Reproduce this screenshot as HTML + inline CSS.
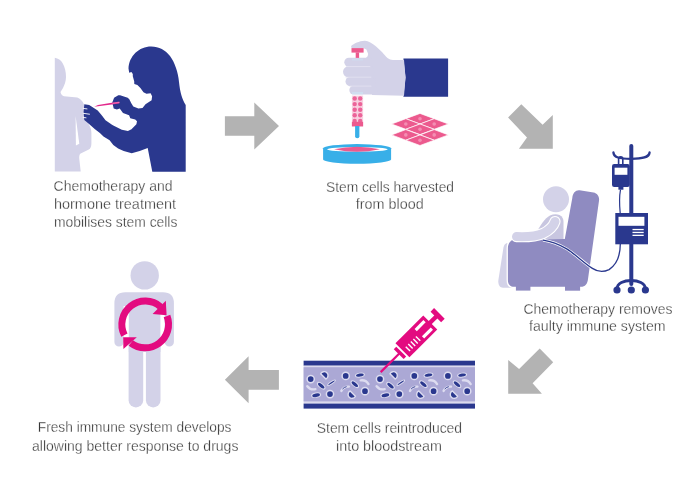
<!DOCTYPE html>
<html><head><meta charset="utf-8"><title>Stem cell transplant</title>
<style>
html,body{margin:0;padding:0;background:#fff;}
body{width:700px;height:493px;overflow:hidden;position:relative;}
svg{position:absolute;left:0;top:0;display:block;will-change:transform;}
text{font-family:"Liberation Sans",sans-serif;}
</style></head><body>
<svg width="700" height="493" viewBox="0 0 700 493">
<rect width="700" height="493" fill="#fff"/>
<g fill="#b3b3b3">
<polygon points="224.9,116.3 254.3,116.3 254.3,102.5 279,126 254.3,149.4 254.3,135.7 224.9,135.7"/>
<polygon points="521.3,104.2 542.6,124.8 552.8,114.9 552.8,148.7 518.9,148.7 527,137.6 508.1,117.4"/>
<polygon points="539.7,348.5 553.2,362.3 532.6,383.3 541.9,393.7 508.2,393.7 508.2,359.9 519.1,369.1"/>
<polygon points="224.9,379.8 248.6,356.3 248.6,370.1 278.9,370.1 278.9,389.7 248.6,389.7 248.6,403.2"/>
</g>
<path fill="#d3d2e8" d="M54.8,57.8 C58,58.5 61,60 62.5,63 C65,67 66,72 66,77 C66,81 64.5,85 63,88 L60.5,92 C61,94.5 62.5,96 64,96.2 L77.3,97.6 C80,98.5 82.5,101 83.8,104 L88.8,124.5 C90.5,127 91.4,130 91.4,133 L91.4,143.4 C91.4,146.5 90.5,148.5 88.8,149.5 L80.2,153.8 C79.3,155 79.1,157 79.3,159 L80.7,171.5 L54.8,171.5 Z"/>
<path fill="#fff" d="M75.6,116 L75.9,145.5 L79.3,143.8 Z"/>
<path fill="#2a388e" d="M151.2,46.4 C159,46.4 165.5,50 170,56 C175,63 178,72 179,82 C180,92 182,99 185.7,105 L185.7,171.8 L152.3,171.8 L147.7,148.1 L139.7,151 L131.7,153.3 L123.7,151 L118.1,148.4 L113.3,145 L109.6,140.2 L103.5,136.5 L99.9,132.9 L95,129.2 L88.5,123.4 L84.3,120 L83.6,112 L84.3,104.2 L89.2,105.1 L97.7,110.5 L101.3,114.7 L105.5,120.2 L112,124.8 L113.3,125.6 L121.8,129.8 L127.9,131 L131.5,129.2 L136.4,124.3 L137,121.3 L135.2,119.5 L130.3,118.3 L129.1,115.2 L123,113.1 L119.7,108.6 L116.9,109.6 L113.7,108.4 L112.3,102.6 L114.1,97.7 L118.3,95.2 L120.1,95.2 L127.7,97.7 L129.3,99.3 L131.3,103.3 L133.3,106.4 L138.4,108.4 L142.5,107.9 L145.5,104.3 L151.6,100.3 L152.1,96.2 L150.6,93.2 L146.5,93.7 L143.5,92.2 L140.4,88.1 L137.4,85.1 L134.3,84.1 L134.2,81.2 L132.8,76.2 L132.8,74 L131.4,72 L129.2,72.7 L128.5,68.4 C129,56 139,46.4 151.2,46.4 Z"/>
<path stroke="#fff" stroke-width="0.9" fill="none" stroke-linecap="round" d="M83.2,108.4 L87,108.9 M83.2,113.3 L89.5,114.2 M83.2,117.4 L86,117.8"/>
<path d="M94.2,106.7 L98,106.2 L119.4,103.6 L119.4,101.6 L98,104.9 Z" fill="#e2288b"/>
<line x1="112.5" y1="103.3" x2="119.4" y2="102.5" stroke="#f286bd" stroke-width="0.9"/>
<g fill="#363636" stroke="#fff" stroke-width="0.3" font-family="Liberation Sans, sans-serif">
<text x="53.6" y="191" text-anchor="start" font-size="15.3" textLength="119" lengthAdjust="spacingAndGlyphs">Chemotherapy and</text>
<text x="54" y="209" text-anchor="start" font-size="15.3" textLength="122" lengthAdjust="spacingAndGlyphs">hormone treatment</text>
<text x="54" y="227.2" text-anchor="start" font-size="15.3" textLength="123.4" lengthAdjust="spacingAndGlyphs">mobilises stem cells</text>
<text x="390" y="191.6" text-anchor="middle" font-size="15.3" textLength="128" lengthAdjust="spacingAndGlyphs">Stem cells harvested</text>
<text x="389.7" y="209" text-anchor="middle" font-size="15.3" textLength="67.9" lengthAdjust="spacingAndGlyphs">from blood</text>
<text x="598" y="313.7" text-anchor="middle" font-size="15.3" textLength="149" lengthAdjust="spacingAndGlyphs">Chemotherapy removes</text>
<text x="597.3" y="331" text-anchor="middle" font-size="15.3" textLength="136.6" lengthAdjust="spacingAndGlyphs">faulty immune system</text>
<text x="389.4" y="432.6" text-anchor="middle" font-size="15.3" textLength="145.3" lengthAdjust="spacingAndGlyphs">Stem cells reintroduced</text>
<text x="389" y="450.6" text-anchor="middle" font-size="15.3" textLength="106" lengthAdjust="spacingAndGlyphs">into bloodstream</text>
<text x="134.6" y="432.3" text-anchor="middle" font-size="15.3" textLength="193.7" lengthAdjust="spacingAndGlyphs">Fresh immune system develops</text>
<text x="135.2" y="450.5" text-anchor="middle" font-size="15.3" textLength="206.4" lengthAdjust="spacingAndGlyphs">allowing better response to drugs</text>
</g>
<path fill="#2a388e" d="M403.4,58.4 L448.1,58.4 L448.1,96.7 L403.4,96.7 L405.5,77.5 Z"/>
<path fill="#d3d2e8" d="M351.1,45.9 C354,43.5 359,41 364.6,40.7 C368,40.5 372,43 376.1,46.5 L382,52 C386,57 389,60 393,60 L404,60 L405.5,77.5 L404,95.8 L372,95 L366,58 L367.6,56.3 L368.2,53.9 L366.4,49.6 L363.6,48.3 L351.5,48.1 Z"/>
<g fill="#d3d2e8">
<rect x="345.5" y="77" width="30" height="9.2" rx="4.6"/>
<rect x="349.3" y="85.8" width="28" height="8.6" rx="4.3"/>
<rect x="343" y="66.3" width="32" height="11" rx="5.5"/>
<rect x="344.3" y="57.8" width="30" height="9" rx="4.5"/>
</g>
<g fill="none" stroke="#e3e2f1" stroke-width="0.8" stroke-linecap="round">
<path d="M346.5,66.6 L370,66.6 M346,77.2 L371,77.2 M350,86.1 L371,86.1"/>
</g>
<rect x="352" y="58.5" width="11" height="2" fill="#cfe3f3" opacity="0.6"/>
<rect x="352" y="92" width="11" height="2.5" fill="#cfe3f3" opacity="0.7"/>
<rect x="351.5" y="48.1" width="12.1" height="4.5" fill="#ec5a8e"/>
<rect x="355.7" y="52.4" width="3.4" height="5.5" fill="#ec5a8e"/>
<rect x="351.9" y="95.6" width="11.2" height="30.8" fill="#f8d0e0"/>
<g fill="#ec6499"><circle cx="354.7" cy="98.5" r="2.2"/><circle cx="360.2" cy="98.5" r="2.2"/><circle cx="354.7" cy="104.1" r="2.2"/><circle cx="360.2" cy="104.1" r="2.2"/><circle cx="354.7" cy="109.7" r="2.2"/><circle cx="360.2" cy="109.7" r="2.2"/><circle cx="354.7" cy="115.3" r="2.2"/><circle cx="360.2" cy="115.3" r="2.2"/><circle cx="354.7" cy="120.9" r="2.2"/><circle cx="360.2" cy="120.9" r="2.2"/></g>
<rect x="351.9" y="121.8" width="11.2" height="4.6" fill="#ec5a8e"/>
<path fill="#38afe8" d="M355.1,126 L359.4,126 L359.4,136.2 A2.15,2.15 0 0 1 355.1,136.2 Z"/>
<path fill="#38afe8" d="M323.1,148.3 A34,4.2 0 0 1 391.1,148.3 L391.1,159.5 A34,4.2 0 0 1 323.1,159.5 Z"/>
<ellipse cx="357.4" cy="149.3" rx="30.3" ry="2.3" fill="#fff"/>
<path fill="#ec5a8e" d="M334,149.3 Q357,144.2 380,149.3 Q357,154.4 334,149.3 Z"/>
<g fill="#ec5a8e" stroke="#fff" stroke-width="0.7">
<polygon points="405.8,118.7 420,113.4 434.2,118.7 420,124.0"/>
<polygon points="391.6,124.0 405.8,118.7 420.0,124.0 405.8,129.3"/>
<polygon points="420.0,124.0 434.2,118.7 448.4,124.0 434.2,129.3"/>
<polygon points="405.8,129.3 420,124.00000000000001 434.2,129.3 420,134.60000000000002"/>
<polygon points="391.6,134.9 405.8,129.6 420.0,134.9 405.8,140.20000000000002"/>
<polygon points="420.0,134.9 434.2,129.6 448.4,134.9 434.2,140.20000000000002"/>
<polygon points="405.8,140.2 420,134.89999999999998 434.2,140.2 420,145.5"/>
</g>
<g fill="#f48db2"><circle cx="420" cy="118.7" r="1.8"/><circle cx="405.8" cy="124.0" r="1.8"/><circle cx="434.2" cy="124.0" r="1.8"/><circle cx="420" cy="129.3" r="1.8"/><circle cx="405.8" cy="134.9" r="1.8"/><circle cx="434.2" cy="134.9" r="1.8"/><circle cx="420" cy="140.2" r="1.8"/></g>
<g fill="#2a388e" stroke="none">
<rect x="629.3" y="144" width="4" height="142" rx="2"/>
<rect x="615.3" y="213" width="32.7" height="31.3"/>
<rect x="612" y="164.1" width="17.8" height="22.8" rx="2.2"/>
<rect x="618.4" y="186.5" width="5" height="3.2"/>
<circle cx="617" cy="290" r="3.6"/><circle cx="631.3" cy="290" r="3.6"/><circle cx="645.4" cy="290" r="3.6"/>
</g>
<g fill="none" stroke="#2a388e" stroke-width="2.8" stroke-linecap="round">
<path stroke-width="2.3" d="M613.4,152.5 C614,157.5 619,158.8 631.3,158.8 C643,158.8 649,157.5 649.6,152.5"/>
<path d="M617,289 C617,283 624,280.5 631.3,280.5 C638,280.5 645.4,283 645.4,289"/>
</g>
<path d="M618.6,164.5 L618.6,159 A2.1,2.1 0 0 1 622.8,159 L622.8,164.5" fill="none" stroke="#2a388e" stroke-width="1.6"/>
<rect x="614.6" y="167.7" width="12.8" height="7.1" fill="#fff"/>
<rect x="618.5" y="216.8" width="25.9" height="9" fill="#fff"/>
<g fill="#fff"><rect x="632.5" y="228.9" width="11.2" height="1.3"/><rect x="632.5" y="231.8" width="11.2" height="1.3"/><rect x="632.5" y="234.7" width="11.2" height="1.3"/></g>
<path d="M620.5,189.7 C619,198 619.5,206 620.2,213" fill="none" stroke="#2a388e" stroke-width="1.2"/>
<path fill="#d3d2e8" d="M508,243 C505,243 503.8,245.5 503.4,248 L498.4,280 C497.9,284.5 499.5,287.8 503,287.8 L512,287.8 L512,243 Z"/>
<path fill="none" stroke="#fff" stroke-width="2.6" d="M515,239.3 C510.5,240 507.9,243.5 507.9,248 L507.9,280 C507.9,284 510,286.8 514,286.8"/>
<path fill="#8f8bc1" d="M579.5,190.3 L593.5,192.5 C597.5,193.3 599.6,196.8 599,200.8 L588,279 C587.5,284 585,286.8 581,286.8 L514,286.8 C510,286.8 507.9,284 507.9,280 L507.9,248 C507.9,243.5 510.5,240 515,239.3 L545,239.3 L564.8,239 L572.3,198 C572.8,193 575.5,190 579.5,190.3 Z"/>
<rect x="515.9" y="285" width="14.5" height="5.6" fill="#8f8bc1"/>
<rect x="565" y="285" width="15.1" height="5.7" fill="#8f8bc1"/>
<circle cx="556" cy="199.2" r="13" fill="#d3d2e8"/>
<path fill="#c8c6e0" d="M536,239 L536,233 C540,226 545,218 550,215.5 C553,214 557,213.8 559.5,215 C562.5,216.5 563.5,219 563.5,222 L563.5,239 Z"/>
<path fill="none" stroke="#fff" stroke-width="11.2" stroke-linecap="round" d="M516.5,236.6 C526,237 536,236.5 543,233.5 C550,230 553.5,226 555,221.5"/>
<path fill="none" stroke="#d3d2e8" stroke-width="9" stroke-linecap="round" d="M516.5,236.6 C526,237 536,236.5 543,233.5 C550,230 553.5,226 555,221.5"/>
<path fill="none" stroke="#fff" stroke-width="2.8" d="M543,240.2 C552,241.5 560,245 566.7,248.9 C575,254 584,263 592.4,268.4 C597,271.5 603,272.5 609.1,269.6"/>
<path fill="none" stroke="#2a388e" stroke-width="1.3" d="M543,240.2 C552,241.5 560,245 566.7,248.9 C575,254 584,263 592.4,268.4 C597,271.5 603,272.5 609.1,269.6 C616,265 620.3,258 620.3,244"/>
<rect x="303.6" y="360.7" width="171.4" height="5" fill="#2a388e"/>
<rect x="303.6" y="365.7" width="171.4" height="38" fill="#dcdaee"/>
<rect x="303.6" y="367.2" width="171.4" height="34.2" fill="#aba8d5"/>
<rect x="303.6" y="403.6" width="171.4" height="5" fill="#2a388e"/>
<circle cx="310.7" cy="379.1" r="3.6" fill="#2a388e" stroke="#dddcf0" stroke-width="1.5"/>
<path transform="translate(324.2,375.5) rotate(45)" d="M-3.7,1.3 A3.9,3.9 0 1 1 3.7,1.3 Z" fill="#2a388e" stroke="#dddcf0" stroke-width="1.4" stroke-linejoin="round"/>
<ellipse transform="translate(331.5,382.8) rotate(-35)" rx="5.1" ry="1.60" fill="#dddcf0"/><ellipse transform="translate(331.5,382.8) rotate(-35)" rx="3.9" ry="0.7" fill="#2a388e"/>
<ellipse transform="translate(321.2,385.7) rotate(40)" rx="5.1" ry="2.50" fill="#dddcf0"/><ellipse transform="translate(321.2,385.7) rotate(40)" rx="3.9" ry="1.6" fill="#2a388e"/>
<path transform="translate(311.0,388.6) rotate(20)" d="M-4.3,-1 Q0,1.8 4.3,-1" fill="none" stroke="#dddcf0" stroke-width="2.4" stroke-linecap="round"/>
<ellipse transform="translate(316.1,395.2) rotate(-10)" rx="5.1" ry="2.70" fill="#dddcf0"/><ellipse transform="translate(316.1,395.2) rotate(-10)" rx="3.9" ry="1.8" fill="#2a388e"/>
<circle cx="330.0" cy="394.1" r="3.6" fill="#2a388e" stroke="#dddcf0" stroke-width="1.5"/>
<circle cx="345.7" cy="375.9" r="3.6" fill="#2a388e" stroke="#dddcf0" stroke-width="1.5"/>
<ellipse transform="translate(359.9,375.1) rotate(-10)" rx="5.1" ry="2.40" fill="#dddcf0"/><ellipse transform="translate(359.9,375.1) rotate(-10)" rx="3.9" ry="1.5" fill="#2a388e"/>
<path transform="translate(365.0,381.3) rotate(205)" d="M-4.3,-1 Q0,1.8 4.3,-1" fill="none" stroke="#dddcf0" stroke-width="2.4" stroke-linecap="round"/>
<ellipse transform="translate(354.8,384.2) rotate(40)" rx="5.1" ry="2.50" fill="#dddcf0"/><ellipse transform="translate(354.8,384.2) rotate(40)" rx="3.9" ry="1.6" fill="#2a388e"/>
<path transform="translate(344.6,387.9) rotate(150)" d="M-4.3,-1 Q0,1.8 4.3,-1" fill="none" stroke="#dddcf0" stroke-width="2.4" stroke-linecap="round"/><path transform="translate(344.6,387.9) rotate(150)" d="M-2,0.2 Q0,0.9 2,0.2" fill="none" stroke="#2a388e" stroke-width="0.8" stroke-linecap="round"/>
<path transform="translate(351.9,394.5) rotate(-135)" d="M-3.7,1.3 A3.9,3.9 0 1 1 3.7,1.3 Z" fill="#2a388e" stroke="#dddcf0" stroke-width="1.4" stroke-linejoin="round"/>
<circle cx="365.0" cy="391.2" r="3.6" fill="#2a388e" stroke="#dddcf0" stroke-width="1.5"/>
<circle cx="380.0" cy="379.1" r="3.6" fill="#2a388e" stroke="#dddcf0" stroke-width="1.5"/>
<path transform="translate(393.5,375.5) rotate(45)" d="M-3.7,1.3 A3.9,3.9 0 1 1 3.7,1.3 Z" fill="#2a388e" stroke="#dddcf0" stroke-width="1.4" stroke-linejoin="round"/>
<ellipse transform="translate(400.8,382.8) rotate(-35)" rx="5.1" ry="1.60" fill="#dddcf0"/><ellipse transform="translate(400.8,382.8) rotate(-35)" rx="3.9" ry="0.7" fill="#2a388e"/>
<ellipse transform="translate(390.5,385.7) rotate(40)" rx="5.1" ry="2.50" fill="#dddcf0"/><ellipse transform="translate(390.5,385.7) rotate(40)" rx="3.9" ry="1.6" fill="#2a388e"/>
<path transform="translate(380.3,388.6) rotate(20)" d="M-4.3,-1 Q0,1.8 4.3,-1" fill="none" stroke="#dddcf0" stroke-width="2.4" stroke-linecap="round"/>
<ellipse transform="translate(385.4,395.2) rotate(-10)" rx="5.1" ry="2.70" fill="#dddcf0"/><ellipse transform="translate(385.4,395.2) rotate(-10)" rx="3.9" ry="1.8" fill="#2a388e"/>
<circle cx="399.3" cy="394.1" r="3.6" fill="#2a388e" stroke="#dddcf0" stroke-width="1.5"/>
<circle cx="414.3" cy="375.9" r="3.6" fill="#2a388e" stroke="#dddcf0" stroke-width="1.5"/>
<ellipse transform="translate(428.5,375.1) rotate(-10)" rx="5.1" ry="2.40" fill="#dddcf0"/><ellipse transform="translate(428.5,375.1) rotate(-10)" rx="3.9" ry="1.5" fill="#2a388e"/>
<path transform="translate(433.6,381.3) rotate(205)" d="M-4.3,-1 Q0,1.8 4.3,-1" fill="none" stroke="#dddcf0" stroke-width="2.4" stroke-linecap="round"/>
<ellipse transform="translate(423.4,384.2) rotate(40)" rx="5.1" ry="2.50" fill="#dddcf0"/><ellipse transform="translate(423.4,384.2) rotate(40)" rx="3.9" ry="1.6" fill="#2a388e"/>
<path transform="translate(413.2,387.9) rotate(150)" d="M-4.3,-1 Q0,1.8 4.3,-1" fill="none" stroke="#dddcf0" stroke-width="2.4" stroke-linecap="round"/><path transform="translate(413.2,387.9) rotate(150)" d="M-2,0.2 Q0,0.9 2,0.2" fill="none" stroke="#2a388e" stroke-width="0.8" stroke-linecap="round"/>
<path transform="translate(420.5,394.5) rotate(-135)" d="M-3.7,1.3 A3.9,3.9 0 1 1 3.7,1.3 Z" fill="#2a388e" stroke="#dddcf0" stroke-width="1.4" stroke-linejoin="round"/>
<circle cx="433.6" cy="391.2" r="3.6" fill="#2a388e" stroke="#dddcf0" stroke-width="1.5"/>
<circle cx="447.9" cy="375.9" r="3.6" fill="#2a388e" stroke="#dddcf0" stroke-width="1.5"/>
<ellipse transform="translate(462.1,375.1) rotate(-10)" rx="5.1" ry="2.40" fill="#dddcf0"/><ellipse transform="translate(462.1,375.1) rotate(-10)" rx="3.9" ry="1.5" fill="#2a388e"/>
<path transform="translate(467.2,381.3) rotate(205)" d="M-4.3,-1 Q0,1.8 4.3,-1" fill="none" stroke="#dddcf0" stroke-width="2.4" stroke-linecap="round"/>
<ellipse transform="translate(457.0,384.2) rotate(40)" rx="5.1" ry="2.50" fill="#dddcf0"/><ellipse transform="translate(457.0,384.2) rotate(40)" rx="3.9" ry="1.6" fill="#2a388e"/>
<path transform="translate(446.8,387.9) rotate(150)" d="M-4.3,-1 Q0,1.8 4.3,-1" fill="none" stroke="#dddcf0" stroke-width="2.4" stroke-linecap="round"/><path transform="translate(446.8,387.9) rotate(150)" d="M-2,0.2 Q0,0.9 2,0.2" fill="none" stroke="#2a388e" stroke-width="0.8" stroke-linecap="round"/>
<path transform="translate(454.1,394.5) rotate(-135)" d="M-3.7,1.3 A3.9,3.9 0 1 1 3.7,1.3 Z" fill="#2a388e" stroke="#dddcf0" stroke-width="1.4" stroke-linejoin="round"/>
<circle cx="467.2" cy="391.2" r="3.6" fill="#2a388e" stroke="#dddcf0" stroke-width="1.5"/>
<g transform="translate(381.4,371.4) rotate(-45)" fill="#e30b80">
<rect x="-1" y="-1.1" width="27" height="2.2"/>
<rect x="24.5" y="-7" width="3.5" height="14"/>
<rect x="29.8" y="-9.9" width="39.3" height="19.8"/>
<rect x="68" y="-2.2" width="10" height="4.4"/>
<rect x="77" y="-7.5" width="5" height="15"/>
<g fill="#fff"><rect x="53.5" y="-6.6" width="12.5" height="3.2"/><rect x="53.5" y="3.8" width="12.5" height="3.2"/>
<rect x="34.0" y="-0.3" width="1.4" height="6.2"/>
<rect x="37.6" y="-0.3" width="1.4" height="6.2"/>
<rect x="41.2" y="-0.3" width="1.4" height="6.2"/>
<rect x="44.8" y="-0.3" width="1.4" height="6.2"/>
<rect x="48.4" y="-0.3" width="1.4" height="6.2"/>
</g></g>
<g fill="#d3d2e8">
<circle cx="144.7" cy="275.4" r="14.2"/>
<path d="M114.4,303.3 Q114.4,292.3 125.4,292.3 L162.9,292.3 Q173.9,292.3 173.9,303.3 L173.9,341.9 A4.6,4.6 0 0 1 164.7,341.9 L164.7,306 L160.4,306 L160.4,352 L128.8,352 L128.8,306 L123.6,306 L123.6,341.9 A4.6,4.6 0 0 1 114.4,341.9 Z"/>
<rect x="128.6" y="338" width="14.6" height="69.5" rx="7.3"/>
<rect x="145.9" y="338" width="14.6" height="69.5" rx="7.3"/>
</g>
<g fill="none" stroke="#e30b80" stroke-width="7">
<path d="M124.4,335.1 A23.4,23.4 0 0 1 160.6,306.8"/>
<path d="M167.0,316.1 A23.4,23.4 0 0 1 130.8,342.9"/>
</g>
<g fill="#e30b80">
<polygon points="165.8,300.8 166.6,315.2 152.6,313.9"/>
<polygon points="123.2,337.3 136.8,337.3 123.4,349"/>
</g>
</svg>
</body></html>
